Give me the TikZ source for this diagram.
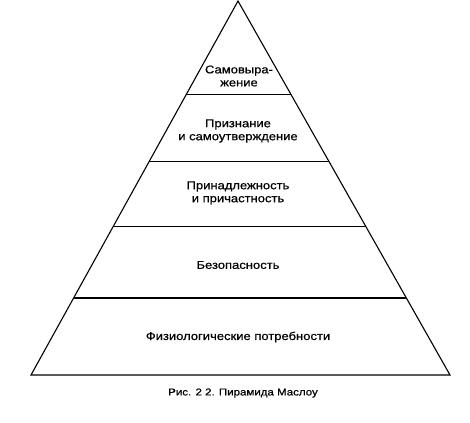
\documentclass[tikz,border=0pt]{standalone}
\usepackage{fontspec}
\setmainfont{Liberation Sans}[FakeStretch=1.15, FakeBold=0.6]
\usetikzlibrary{calc}
\tikzset{
    tier/.style={line width=1.1pt}, % contorno e linee dei livelli
    label/.style={align=center, font=\fontsize{11.3}{13}\selectfont, inner sep=0pt},
}

\begin{document}
\begin{tikzpicture}[x=1pt, y=-1pt]
        \useasboundingbox (0,0) rectangle (470,422);
        % Vertici della piramide
        \coordinate (apex) at (238,1);
        \coordinate (bl) at (31,375);
        \coordinate (br) at (450,375);
        \draw[tier, line join=miter] (bl) -- (apex) -- (br) -- cycle;

        % Linee tra i livelli
        \foreach \t/\n in {0.251/a, 0.428/b, 0.602/c, 0.794/d}{
            \coordinate (l\n) at ($(apex)!\t!(bl)$);
            \coordinate (r\n) at ($(apex)!\t!(br)$);
            \draw[tier] (l\n) -- (r\n);
        }

        % Livelli (dall'alto)
        \node[label] (self) at (239,76) {Самовыра-\\жение};
        \node[label] (esteem) at (238,131) {Признание\\и самоутверждение};
        \node[label] (belong) at (238,193) {Принадлежность\\и причастность};
        \node[label] (safety) at (238,265) {Безопасность};
        \node[label] (body) at (238,337) {Физиологические потребности};

        % Didascalia
        \node[label, font=\fontsize{10}{12}\selectfont] (caption) at (243,393) {Рис. 2 2. Пирамида Маслоу};
    \end{tikzpicture}
\end{document}
